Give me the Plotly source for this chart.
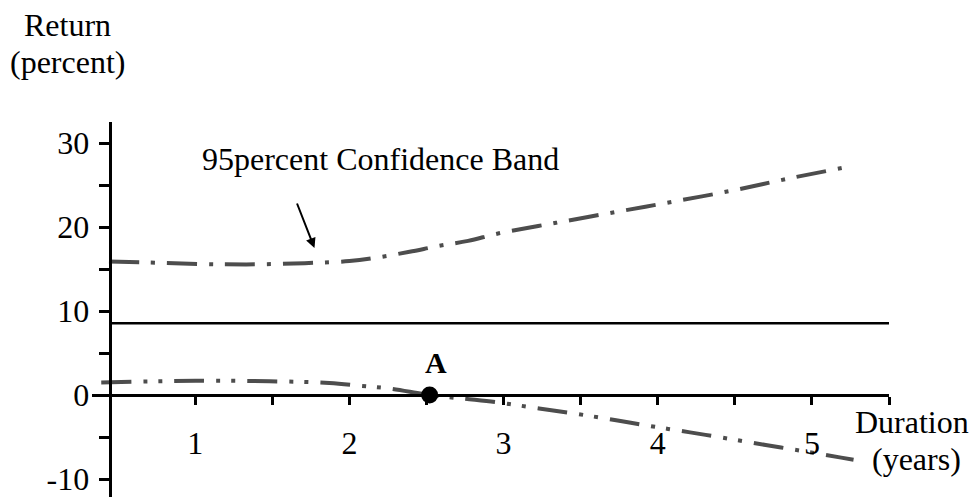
import plotly.graph_objects as go

# ---- data -------------------------------------------------------------
duration_ticks = [1, 1.5, 2, 2.5, 3, 3.5, 4, 4.5, 5, 5.5]
duration_labels = ["1", "", "2", "", "3", "", "4", "", "5", ""]
return_ticks = [-10, -5, 0, 5, 10, 15, 20, 25, 30]
return_labels = ["-10", "", "0", "", "10", "", "20", "", "30"]

upper_x = [0.44, 0.65, 1.03, 1.33, 1.71, 2.0, 2.19, 2.39, 2.58, 2.77, 2.97,
           3.34, 3.73, 4.11, 4.5, 4.87, 5.26]
upper_y = [15.9, 15.8, 15.6, 15.55, 15.7, 15.95, 16.4, 17.05, 17.75, 18.35,
           19.25, 20.5, 21.8, 23.05, 24.4, 25.85, 27.25]

lower_x = [0.39, 0.7, 1.0, 1.48, 1.87, 2.07, 2.26, 2.52, 2.75, 2.95, 3.23,
           3.44, 3.73, 3.92, 4.21, 4.41, 4.70, 4.90, 5.19, 5.27]
lower_y = [1.5, 1.62, 1.7, 1.64, 1.43, 1.1, 0.77, 0.0, -0.45, -0.85, -1.6,
           -2.15, -3.0, -3.6, -4.45, -5.05, -5.95, -6.55, -7.45, -7.7]

hline_x = [0.444, 5.5]
hline_y = [8.54, 8.54]

point_a_x = [2.52]
point_a_y = [0.0]

# ---- layout constants -------------------------------------------------
W, H = 972, 497
ML, MR, MT, MB = 92, 83, 122, 0
XR = [0.33, 5.5]
YR = [-12.14, 32.5]
FONT = "Liberation Serif, Times New Roman, serif"
GRAY = "#4d4d4d"

pw = W - ML - MR
ph = H - MT - MB
x_axis_pos = (0 - YR[0]) / (YR[1] - YR[0])
y_axis_pos = (0.444 - XR[0]) / (XR[1] - XR[0])


def pxx(p):
    return (p - ML) / pw


def pxy(p):
    return (H - MB - p) / ph


fig = go.Figure()

fig.add_trace(go.Scatter(
    x=upper_x, y=upper_y, mode="lines",
    line=dict(color=GRAY, width=4, dash="30px,12px,4px,12px", shape="spline"),
    showlegend=False, hoverinfo="skip"))

fig.add_trace(go.Scatter(
    x=lower_x, y=lower_y, mode="lines",
    line=dict(color=GRAY, width=4, dash="30px,12px,4px,11px,4px,12px",
              shape="spline"),
    showlegend=False, hoverinfo="skip"))

fig.add_trace(go.Scatter(
    x=hline_x, y=hline_y, mode="lines",
    line=dict(color="black", width=2.5),
    showlegend=False, hoverinfo="skip"))

fig.add_trace(go.Scatter(
    x=point_a_x, y=point_a_y, mode="markers",
    marker=dict(color="black", size=17),
    showlegend=False, hoverinfo="skip", cliponaxis=False))

tfont = dict(family=FONT, size=32, color="black")

fig.update_layout(
    width=W, height=H,
    margin=dict(l=ML, r=MR, t=MT, b=MB, pad=0),
    paper_bgcolor="white", plot_bgcolor="white",
    font=tfont,
    xaxis=dict(
        range=XR, anchor="free", position=x_axis_pos,
        showline=True, linecolor="black", linewidth=2.5,
        ticks="outside", ticklen=8, tickwidth=2.5, tickcolor="black",
        tickvals=duration_ticks, ticktext=duration_labels,
        tickfont=tfont, ticklabelstandoff=11, ticklabeloverflow="allow",
        showgrid=False, zeroline=False, automargin=False, fixedrange=True),
    xaxis2=dict(
        range=XR, overlaying="x", anchor="free", position=x_axis_pos,
        side="top", showline=False,
        ticks="outside", ticklen=8, tickwidth=2.5, tickcolor="black",
        tickvals=duration_ticks, showticklabels=False,
        showgrid=False, zeroline=False, automargin=False, fixedrange=True),
    yaxis=dict(
        range=YR, anchor="free", position=y_axis_pos,
        showline=True, linecolor="black", linewidth=3,
        ticks="outside", ticklen=10, tickwidth=2.5, tickcolor="black",
        tickvals=return_ticks, ticktext=return_labels,
        tickfont=tfont, ticklabelstandoff=3, ticklabeloverflow="allow",
        showgrid=False, zeroline=False, automargin=False, fixedrange=True),
)

annos = [
    dict(text="Return", x=pxx(67), y=pxy(25.5)),
    dict(text="(percent)", x=pxx(67), y=pxy(61.5)),
    dict(text="95percent Confidence Band", x=pxx(380), y=pxy(159)),
    dict(text="<b>A</b>", x=pxx(436), y=pxy(362), size=30),
    dict(text="Duration", x=pxx(911.5), y=pxy(421.7)),
    dict(text="(years)", x=pxx(916.5), y=pxy(458.5)),
]
for a in annos:
    fig.add_annotation(
        text=a["text"], x=a["x"], y=a["y"], xref="paper", yref="paper",
        xanchor="center", yanchor="middle", showarrow=False,
        font=dict(family=FONT, size=a.get("size", 32), color="black"))

fig.add_annotation(
    text="", x=1.773, y=17.5, xref="x", yref="y",
    ax=-18, ay=-46, showarrow=True,
    arrowhead=2, arrowsize=1, arrowwidth=2, arrowcolor="black")

fig.write_html(
    "out.html",
    config={"displayModeBar": False},
    post_script="document.body.style.margin='0';"
                "document.body.style.overflow='hidden';")
